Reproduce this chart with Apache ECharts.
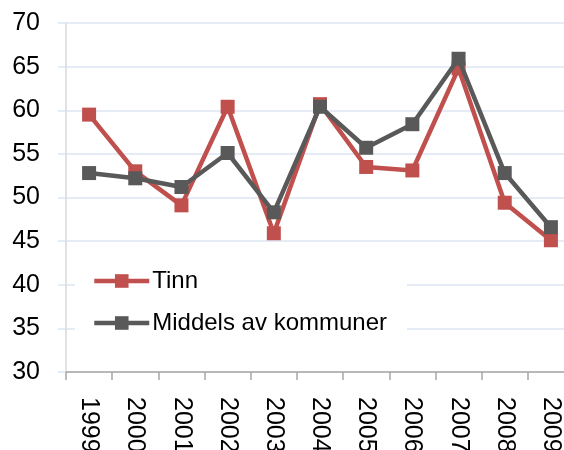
<!DOCTYPE html>
<html>
<head>
<meta charset="utf-8">
<script src="https://cdn.jsdelivr.net/npm/echarts@6/dist/echarts.min.js"></script>
<style>
  html, body { margin: 0; padding: 0; background: #fff; }
  #chart { width: 564px; height: 450px; }
</style>
</head>
<body>
<div id="chart"></div>
<script>
// Data
const years = ['1999', '2000', '2001', '2002', '2003', '2004', '2005', '2006', '2007', '2008', '2009'];
const tinn = [59.5, 53.0, 49.1, 60.4, 45.9, 60.7, 53.5, 53.1, 64.8, 49.4, 45.1];
const middels = [52.8, 52.2, 51.2, 55.1, 48.3, 60.4, 55.7, 58.4, 65.9, 52.8, 46.6];

const font = 'Liberation Sans, Arial, sans-serif';

const chart = echarts.init(document.getElementById('chart'));

chart.setOption({
  animation: false,
  // plot runs past the right edge of the picture, like the original crop
  grid: { left: 66, top: 23, width: 508, height: 349, outerBoundsMode: 'none', containLabel: false },
  legend: {
    orient: 'vertical',
    left: 75,
    top: 255,
    padding: [14, 20, 14, 17],
    backgroundColor: '#fff',
    itemWidth: 55,
    itemHeight: 17,
    itemGap: 18,
    lineStyle: { width: 4.5 },
    textStyle: { fontFamily: font, fontSize: 24, color: '#000', lineHeight: 24, padding: [0, 0, 0, -2] },
    data: ['Tinn', 'Middels av kommuner']
  },
  xAxis: {
    type: 'category',
    data: years,
    boundaryGap: true,
    axisLine: { lineStyle: { color: '#a6a6a6', width: 1.5 } },
    axisTick: { show: true, length: 8, lineStyle: { color: '#a6a6a6', width: 1.5 } },
    axisLabel: { rotate: -90, margin: 25, fontFamily: font, fontSize: 25, color: '#000', interval: 0 },
    splitLine: { show: false }
  },
  yAxis: {
    type: 'value',
    min: 30,
    max: 70,
    interval: 5,
    axisLine: { show: true, lineStyle: { color: '#d9d9d9', width: 1.5 } },
    axisTick: { show: true, length: 8, lineStyle: { color: '#dce6f2', width: 1.5 } },
    axisLabel: { margin: 26, fontFamily: font, fontSize: 25, color: '#000' },
    splitLine: { lineStyle: { color: '#dce6f2', width: 1.5 } }
  },
  series: [
    {
      name: 'Tinn',
      type: 'line',
      data: tinn,
      symbol: 'rect',
      symbolSize: 14,
      lineStyle: { color: '#c0504d', width: 4.5 },
      itemStyle: { color: '#c0504d' },
      z: 2
    },
    {
      name: 'Middels av kommuner',
      type: 'line',
      data: middels,
      symbol: 'rect',
      symbolSize: 14,
      lineStyle: { color: '#595959', width: 4.5 },
      itemStyle: { color: '#595959' },
      z: 3
    }
  ]
});
</script>
</body>
</html>
